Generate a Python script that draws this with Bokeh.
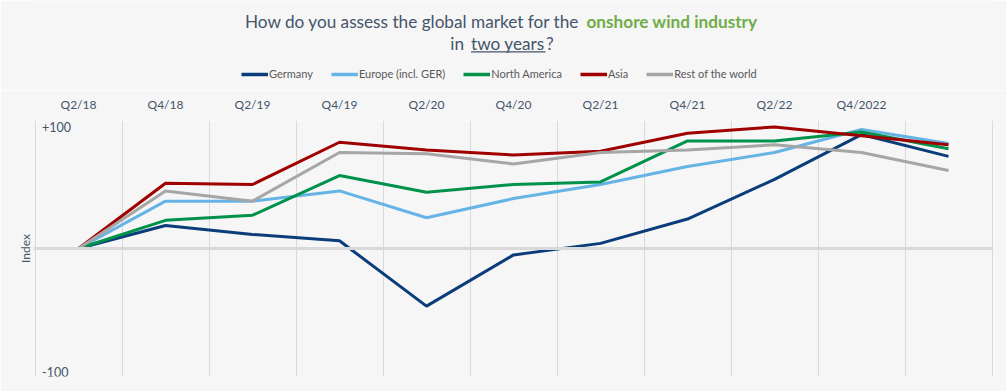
import math
from bokeh.plotting import figure
from bokeh.layouts import column
from bokeh.models import (FixedTicker, Label, Legend, LegendItem, Span,
                          BoxAnnotation, Range1d)
from bokeh.embed import file_html
from bokeh.resources import INLINE

# ---------------- data ----------------
quarters = ["Q2/18", "Q4/18", "Q2/19", "Q4/19", "Q2/20", "Q4/20",
            "Q2/21", "Q4/21", "Q2/22", "Q4/2022", ""]
germany = [0, 18, 11, 6, -45, -5, 4, 23, 54, 89, 72]
europe = [0, 37, 37, 45, 24, 39, 50, 64, 75, 93, 82]
north_america = [0, 22, 26, 57, 44, 50, 52, 84, 84, 91, 78]
asia = [0, 51, 50, 83, 77, 73, 76, 90, 95, 88, 81]
rest_of_world = [0, 45, 37, 75, 74, 66, 75, 77, 81, 75, 61]
series_names = ["Germany", "Europe (incl. GER)", "North America", "Asia",
                "Rest of the world"]
y_ticks = [100, -100]
y_tick_labels = ["+100", "-100"]
title_line1 = ["How do you assess the global market for the",
               "onshore wind industry"]
title_line2 = ["in", "two years", "?"]

# ---------------- style ----------------
colors = ["#0B3D7A", "#66B3E6", "#00924A", "#A00000", "#A6A6A6"]
BG = "#f6f6f6"
TXT = "#44546A"
GREEN = "#70AD47"
FONT = "Lato"
W = 1006
HEAD_H = 90
MAIN_H = 391 - HEAD_H
FRAME_L, FRAME_R = 33, 993          # page x of the plot frame
px_per_cat = (FRAME_R - FRAME_L - 3) / len(quarters)

series = [germany, europe, north_america, asia, rest_of_world]
xs = list(range(len(quarters)))

# ---------------- header: title + legend ----------------
# header data units == page pixels (x from the left, y from the header bottom)
head = figure(width=W, height=HEAD_H, output_backend="svg",
              toolbar_location=None, x_range=Range1d(FRAME_L, FRAME_R),
              y_range=Range1d(0, HEAD_H), x_axis_location=None,
              y_axis_location=None, min_border_left=FRAME_L,
              min_border_right=W - FRAME_R, min_border_top=0,
              min_border_bottom=0)
head.background_fill_color = BG
head.border_fill_color = BG
head.outline_line_color = None
head.grid.visible = False

TS = "17.2px"
mid1 = HEAD_H - 21.3
mid2 = HEAD_H - 42.7
head.add_layout(Label(x=579, y=mid1, text=title_line1[0], text_font=FONT,
                      text_font_size=TS, text_color=TXT,
                      text_align="right", text_baseline="middle"))
head.add_layout(Label(x=586, y=mid1, text=title_line1[1], text_font=FONT,
                      text_font_size=TS, text_font_style="bold",
                      text_color=GREEN, text_align="left",
                      text_baseline="middle"))
head.add_layout(Label(x=463.5, y=mid2, text=title_line2[0], text_font=FONT,
                      text_font_size=TS, text_color=TXT,
                      text_align="right", text_baseline="middle"))
head.add_layout(Label(x=470.5, y=mid2, text=title_line2[1], text_font=FONT,
                      text_font_size=TS, text_color=TXT,
                      text_align="left", text_baseline="middle"))
head.add_layout(Label(x=545.5, y=mid2, text=title_line2[2], text_font=FONT,
                      text_font_size=TS, text_color=TXT,
                      text_align="left", text_baseline="middle"))
head.add_layout(BoxAnnotation(left=470.5, right=545, top=HEAD_H - 50.8,
                              bottom=HEAD_H - 52.0, fill_color=TXT,
                              fill_alpha=1, line_color=None))

legend_renderers = [head.line(xs, vals, line_color=c, line_width=3.5,
                              visible=False)
                    for vals, c in zip(series, colors)]
legend = Legend(items=[LegendItem(label=n, renderers=[r])
                       for n, r in zip(series_names, legend_renderers)],
                orientation="horizontal", location=(241 - FRAME_L, 10),
                glyph_width=27, glyph_height=12, label_standoff=1,
                spacing=18, padding=0, margin=0,
                background_fill_alpha=0, border_line_color=None,
                label_text_font=FONT, label_text_font_size="11px",
                label_text_color="#595959", label_height=12)
head.add_layout(legend, "center")

# ---------------- main chart ----------------
p = figure(width=W, height=MAIN_H, output_backend="svg",
           toolbar_location=None,
           x_range=Range1d(-0.5 - 1.5 / px_per_cat,
                           len(quarters) - 0.5 + 1.5 / px_per_cat),
           y_range=Range1d(-100, 100),
           x_axis_location="above", y_axis_location="left",
           min_border_left=FRAME_L, min_border_right=W - FRAME_R,
           min_border_top=30, min_border_bottom=15)
p.background_fill_color = BG
p.border_fill_color = BG
p.outline_line_color = None

# vertical grid lines between categories
p.xgrid.ticker = FixedTicker(ticks=[i - 0.5 for i in range(len(quarters) + 1)])
p.xgrid.grid_line_color = "#d9d9d9"
p.xgrid.grid_line_width = 1
p.ygrid.visible = False

# top category axis
ax = p.xaxis[0]
ax.ticker = FixedTicker(ticks=[i for i, q in enumerate(quarters) if q])
ax.major_label_overrides = {i: q for i, q in enumerate(quarters) if q}
ax.axis_line_color = None
ax.major_tick_line_color = None
ax.minor_tick_line_color = None
ax.major_tick_in = 0
ax.major_tick_out = 0
ax.major_label_standoff = 9
ax.major_label_text_font = FONT
ax.major_label_text_font_size = "12px"
ax.major_label_text_color = TXT

# left axis: only the title "Index"
ay = p.yaxis[0]
ay.ticker = FixedTicker(ticks=[])
ay.axis_line_color = None
ay.major_tick_line_color = None
ay.minor_tick_line_color = None
ay.major_tick_in = 0
ay.major_tick_out = 0
ay.major_label_standoff = 0
ay.axis_label = "Index"
ay.axis_label_standoff = 1
ay.axis_label_text_font = FONT
ay.axis_label_text_font_size = "12px"
ay.axis_label_text_font_style = "normal"
ay.axis_label_text_color = TXT

# zero line
p.add_layout(Span(location=0, dimension="width", line_color="#d9d9d9",
                  line_width=3))

for name, vals, c in zip(series_names, series, colors):
    p.line(xs, vals, line_color=c, line_width=3)

# +100 / -100 texts inside the plot
for yv, lab in zip(y_ticks, y_tick_labels):
    p.add_layout(Label(x=-0.5, y=yv, x_offset=7,
                       y_offset=-6 if yv > 0 else 5,
                       text=lab, text_font=FONT, text_font_size="12.5px",
                       text_color=TXT, text_baseline="middle"))

open("out.html", "w").write(file_html(column(head, p, spacing=0), INLINE))
